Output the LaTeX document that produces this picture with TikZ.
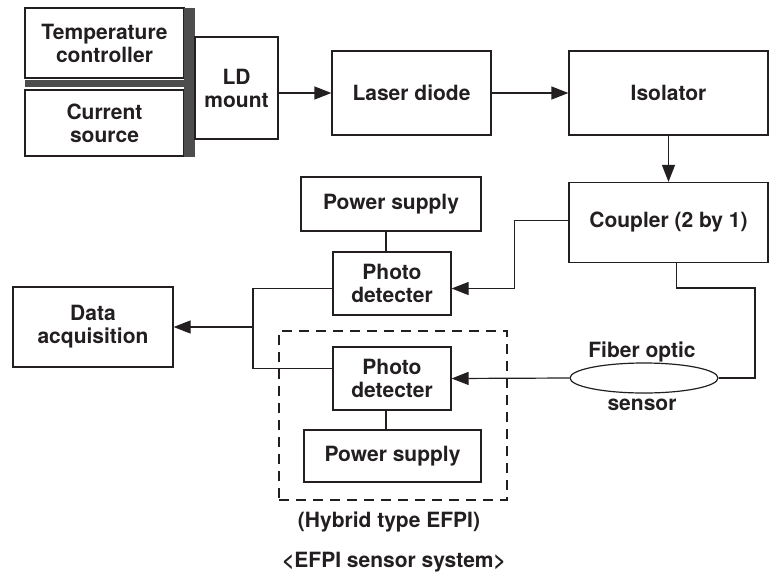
\documentclass[tikz,border=0pt]{standalone}
\usepackage{fontspec}
\setmainfont{TeX Gyre Heros}
\usepackage{tikz}
\usetikzlibrary{arrows.meta, shapes.geometric}

\definecolor{ink}{HTML}{231F20}
\definecolor{barcol}{HTML}{4D4D4D}

\tikzset{
  blk/.style={draw=ink, line width=0.6pt, align=center, inner sep=1pt},
  lbl/.style={text=ink, align=center, inner sep=0pt},
  wire/.style={draw=ink, line width=0.6pt},
  arr/.style={wire, -{Triangle[length=8.5pt, width=6.5pt]}}
}

\begin{document}
\begin{tikzpicture}[x=0.5pt, y=-0.5pt,
    every node/.style={font=\bfseries\fontsize{10.5}{11.5}\selectfont, text=ink}]
    \useasboundingbox (0,0) rectangle (784,580);

    % Place the source blocks and the mount
    \node (tc) [blk, minimum width=79.5pt, minimum height=35pt] at (104.5,43) {Temperature\\controller};
    \node (cs) [blk, minimum width=79.5pt, minimum height=33pt] at (104.5,123) {Current\\source};
    \fill[barcol] (25,80) rectangle (184,87);
    \fill[barcol] (184,8) rectangle (195,157);
    \node (ldm) [blk, minimum width=41.5pt, minimum height=51pt] at (236.5,88) {LD\\mount};

    % Place the optical chain
    \node (ld) [blk, minimum width=79.5pt, minimum height=42pt] at (411.5,93) {Laser diode};
    \node (iso) [blk, minimum width=99.5pt, minimum height=42pt] at (668.5,93) {Isolator};
    \node (cpl) [blk, minimum width=99.5pt, minimum height=40pt] at (668.5,222.5) {Coupler (2 by 1)};

    % Place the detectors and supplies
    \node (ps1) [blk, minimum width=90pt, minimum height=27pt] at (391,204) {Power supply};
    \node (pd1) [blk, minimum width=59pt, minimum height=31.5pt] at (392,283.5) {Photo\\detecter};
    \node (pd2) [blk, minimum width=59pt, minimum height=31.5pt] at (392,378.5) {Photo\\detecter};
    \node (ps2) [blk, minimum width=88.5pt, minimum height=26pt] at (392.5,456) {Power supply};
    \node (daq) [blk, minimum width=80pt, minimum height=40pt] at (93,327) {Data\\acquisition};
    \node (hyb) [draw=ink, line width=0.6pt, dash pattern=on 5pt off 3.5pt,
                 minimum width=114pt, minimum height=84.5pt] at (393,415.5) {};

    % Place the sensor
    \node (fos) [ellipse, draw=ink, line width=0.6pt, minimum width=74pt, minimum height=15pt] at (644,378) {};
    \node (fostop) [lbl] at (642,352) {Fiber optic};
    \node (fosbot) [lbl] at (642,405) {sensor};

    % Captions
    \node (cap1) [lbl] at (389,522) {(Hybrid type EFPI)};
    \node (cap2) [lbl] at (394,562) {\textless EFPI sensor system\textgreater};

    % Draw the connections
    \coordinate (jn) at (253,327);
    \coordinate (rt) at (755,288);
    \draw[arr] (ldm.east |- ld.west) -- (ld.west);
    \draw[arr] (ld) -- (iso);
    \draw[arr] (iso) -- (cpl);
    \draw[arr] ([yshift=1pt]cpl.west) -- ++(-54,0) |- ([yshift=-2.5pt]pd1.east);
    \draw[wire] ([xshift=4pt]cpl.south) |- (rt) |- (fos.east);
    \draw[arr] (fos.west) -- (pd2.east);
    \draw[wire] ([yshift=-2.5pt]pd1.west) -| (jn) |- ([yshift=5pt]pd2.west);
    \draw[arr] (jn) -- (daq.east);
    \draw[wire] ([xshift=-2.5pt]ps1.south) -- ([xshift=-2.5pt]ps1.south |- pd1.north);
    \draw[wire] ([xshift=-3pt]pd2.north |- pd2.south) -- ([xshift=-3pt]pd2.south |- ps2.north);
\end{tikzpicture}
\end{document}
